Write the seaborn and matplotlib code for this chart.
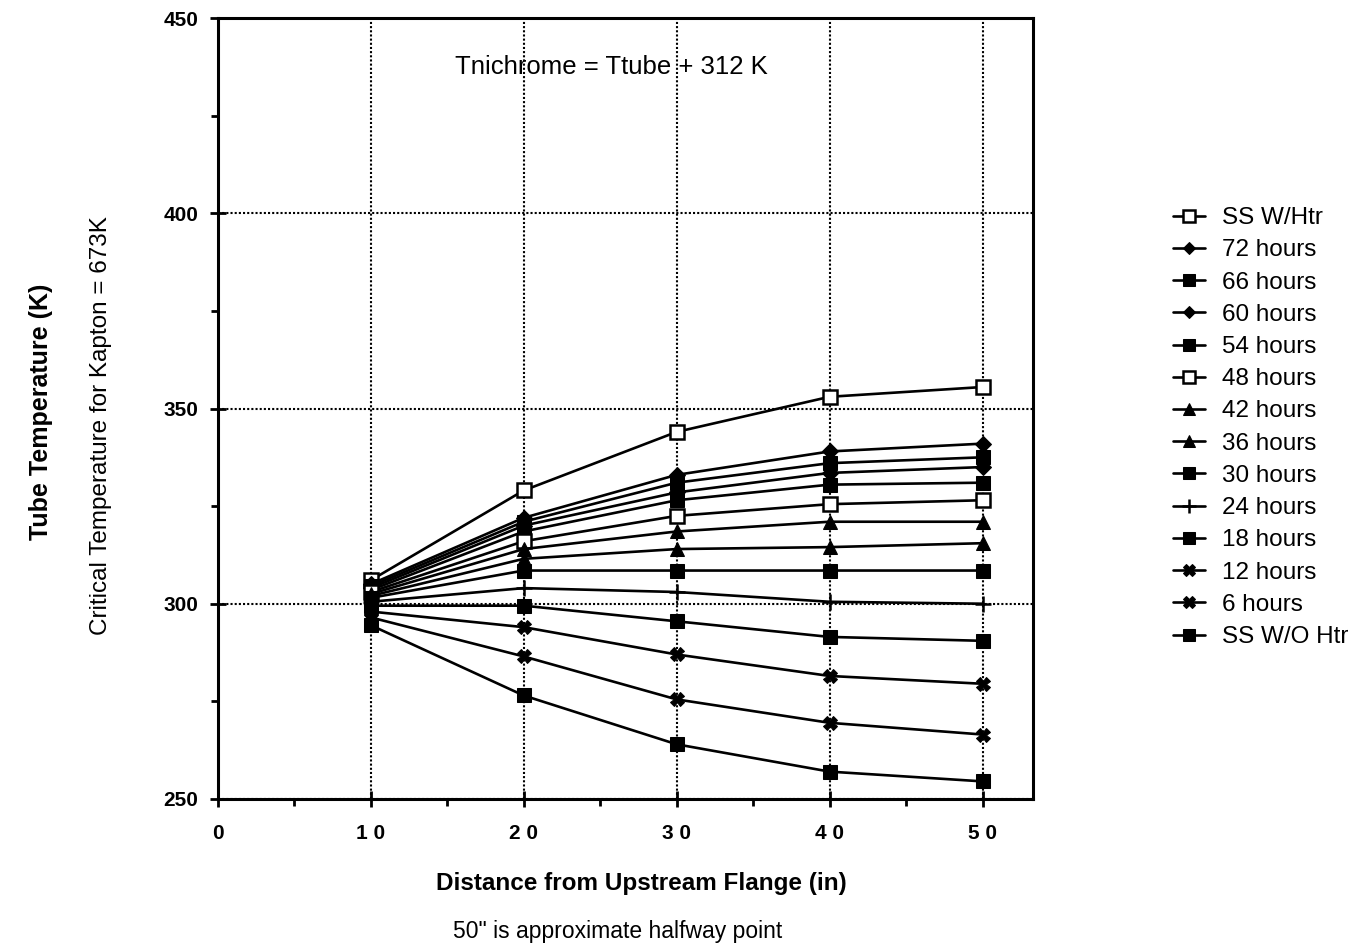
import matplotlib
matplotlib.use("Agg")
import matplotlib.pyplot as plt
import seaborn as sns
import pandas as pd
from matplotlib.ticker import MultipleLocator, FixedLocator

distance = [10, 20, 30, 40, 50]
series_names = ["SS W/Htr", "72 hours", "66 hours", "60 hours", "54 hours", "48 hours",
                "42 hours", "36 hours", "30 hours", "24 hours", "18 hours", "12 hours",
                "6 hours", "SS W/O Htr"]
ss_w_htr = [306, 329, 344, 353, 355.5]
h72 = [305, 322, 333, 339, 341]
h66 = [304.5, 321, 331, 336, 337.5]
h60 = [304, 320, 328.5, 333.5, 335]
h54 = [303.5, 318.5, 326.5, 330.5, 331]
h48 = [303, 316, 322.5, 325.5, 326.5]
h42 = [302.5, 314, 318.5, 321, 321]
h36 = [302, 311.5, 314, 314.5, 315.5]
h30 = [301.5, 308.5, 308.5, 308.5, 308.5]
h24 = [300.5, 304, 303, 300.5, 300]
h18 = [299.5, 299.5, 295.5, 291.5, 290.5]
h12 = [298, 294, 287, 281.5, 279.5]
h6 = [296.5, 286.5, 275.5, 269.5, 266.5]
ss_wo_htr = [294.5, 276.5, 264, 257, 254.5]
all_values = [ss_w_htr, h72, h66, h60, h54, h48, h42, h36, h30, h24, h18, h12, h6, ss_wo_htr]
x_ticks = [0, 10, 20, 30, 40, 50]
x_tick_labels = ["0", "1 0", "2 0", "3 0", "4 0", "5 0"]
y_ticks = [250, 300, 350, 400, 450]

rows = []
for name, vals in zip(series_names, all_values):
    for d, v in zip(distance, vals):
        rows.append({"Distance": d, "Temp": v, "Series": name})
df = pd.DataFrame(rows)

sns.set_style("ticks")
plt.rcParams["font.family"] = ["Liberation Sans", "DejaVu Sans"]
plt.rcParams["text.color"] = "black"
plt.rcParams["xtick.color"] = "black"
plt.rcParams["ytick.color"] = "black"

marker_map = {
    "SS W/Htr": "s", "72 hours": "D", "66 hours": "s", "60 hours": "D", "54 hours": "s",
    "48 hours": "s", "42 hours": "^", "36 hours": "^", "30 hours": "s", "24 hours": "P",
    "18 hours": "s", "12 hours": "X", "6 hours": "X", "SS W/O Htr": "s",
}
open_series = {"SS W/Htr", "48 hours"}

fig = plt.figure(figsize=(13.61, 9.5), dpi=100)
ax = fig.add_axes([0.160, 0.159, 0.599, 0.822])

palette = {n: "black" for n in series_names}
sns.lineplot(data=df, x="Distance", y="Temp", hue="Series", style="Series",
             hue_order=series_names, style_order=series_names,
             palette=palette, markers=marker_map, dashes=False,
             linewidth=1.9, markersize=10, markeredgecolor="black",
             legend=False, ax=ax)

for line, name in zip(ax.get_lines(), series_names):
    if name in open_series:
        line.set_markerfacecolor("white")
        line.set_markeredgewidth(1.8)
    if name == "24 hours":
        line.set_marker("+")
        line.set_markersize(12)
        line.set_markeredgewidth(1.8)
    if name in ("72 hours", "60 hours"):
        line.set_markersize(8)

ax.set_xlim(0, 53.3)
ax.set_ylim(250, 450)
ax.set_xticks(x_ticks)
ax.set_xticklabels(x_tick_labels)
ax.set_yticks(y_ticks)
ax.xaxis.set_minor_locator(FixedLocator([5, 15, 25, 35, 45]))
ax.yaxis.set_minor_locator(MultipleLocator(25))
ax.tick_params(axis="both", which="major", direction="inout", length=12, width=2,
               labelsize=15, pad=8, colors="black")
ax.tick_params(axis="x", which="major", pad=12)
ax.tick_params(axis="both", which="minor", direction="out", length=5, width=2)
for lab in ax.get_xticklabels() + ax.get_yticklabels():
    lab.set_fontweight("bold")
ax.grid(True, which="major", color="black", linestyle=(0, (1, 1)), linewidth=1.5)
for sp in ax.spines.values():
    sp.set_linewidth(2.2)
    sp.set_color("black")
ax.set_xlabel("")
ax.set_ylabel("")

ax.text(0.483, 0.937, "Tnichrome = Ttube + 312 K", transform=ax.transAxes,
        ha="center", va="center", fontsize=18.5)

fig.text(0.471, 0.070, "Distance from Upstream Flange (in)", ha="center", va="center",
         fontsize=17.5, fontweight="bold")
fig.text(0.454, 0.019, "50\" is approximate halfway point", ha="center", va="center",
         fontsize=16.5)
fig.text(0.030, 0.566, "Tube Temperature (K)", rotation=90, ha="center", va="center",
         fontsize=18, fontweight="bold")
fig.text(0.074, 0.552, "Critical Temperature for Kapton = 673K", rotation=90,
         ha="center", va="center", fontsize=17.5)

handles = ax.get_lines()[:len(series_names)]
fig.legend(handles, series_names, loc="upper left", bbox_to_anchor=(0.846, 0.805),
           frameon=False, fontsize=17.5, handlelength=1.3, handletextpad=0.7,
           labelspacing=0.42, markerscale=0.8)

fig.savefig("out.png", dpi=100)
